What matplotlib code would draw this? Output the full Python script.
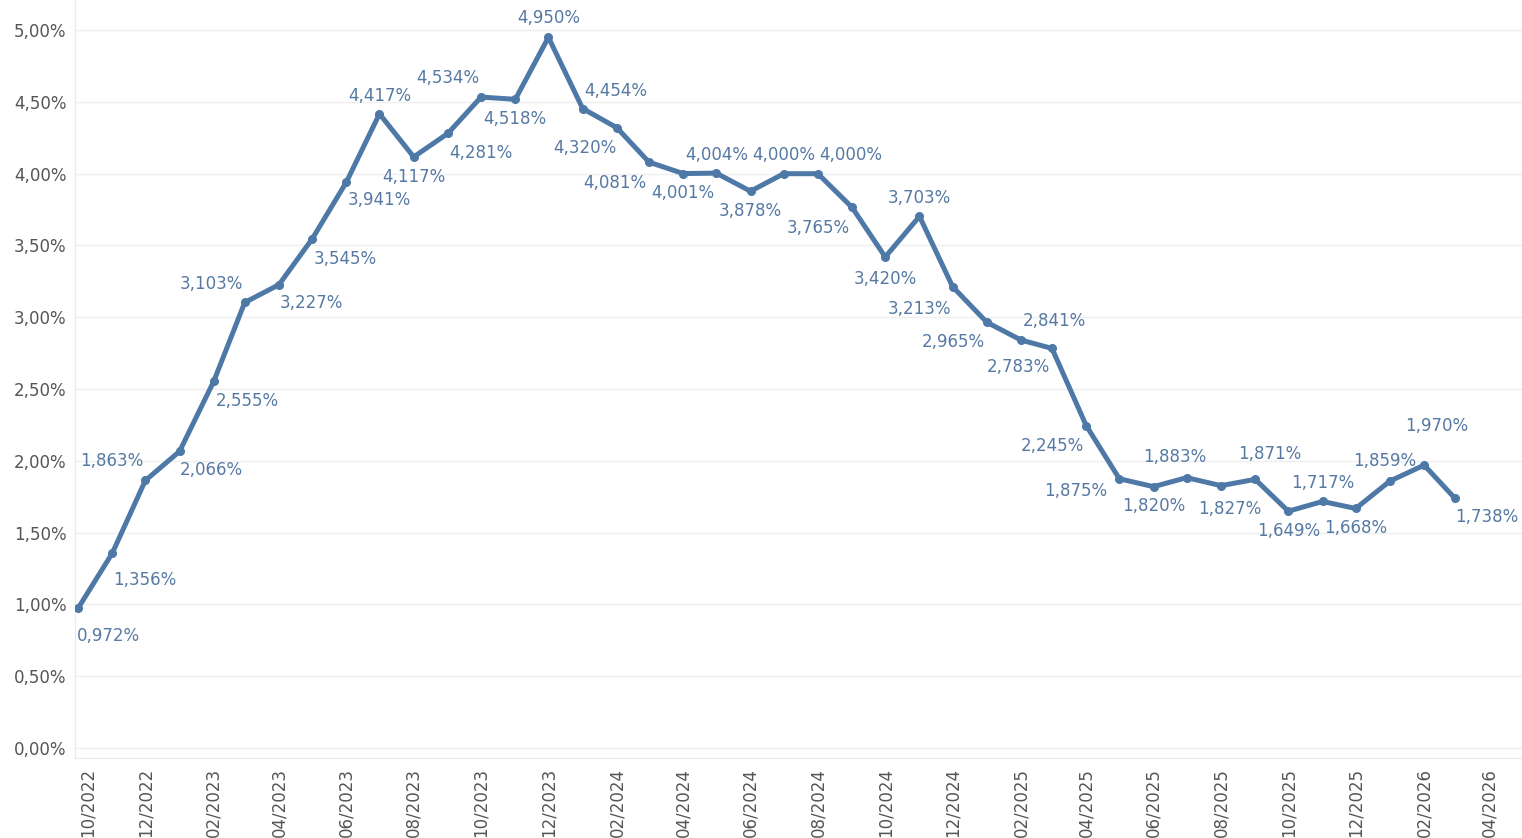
import numpy as np
import pandas as pd
import matplotlib
matplotlib.use("Agg")
import matplotlib.pyplot as plt
import matplotlib.dates as mdates
import matplotlib.transforms as mtransforms

# Taxa mensal (%) de 10/2022 a 03/2026
valores = [0.972, 1.356, 1.863, 2.066, 2.555, 3.103, 3.227, 3.545, 3.941, 4.417,
           4.117, 4.281, 4.534, 4.518, 4.950, 4.454, 4.320, 4.081, 4.001, 4.004,
           3.878, 4.000, 4.000, 3.765, 3.420, 3.703, 3.213, 2.965, 2.841, 2.783,
           2.245, 1.875, 1.820, 1.883, 1.827, 1.871, 1.649, 1.717, 1.668, 1.859,
           1.970, 1.738]
inicio = "2022-10-01"
meses = pd.date_range(inicio, periods=len(valores), freq="MS")

# deslocamento dos rótulos (pixels, x para a direita, y para baixo)
desloc = [(30, 28), (33, 27), (-34, -19), (32, 19), (33, 20), (-33, -18), (32, 18),
          (33, 20), (33, 18), (0, -18), (0, 20), (33, 20), (-33, -19), (0, 20),
          (0, -19), (33, -18), (-32, 20), (-34, 21), (0, 19), (0, -18), (0, 20),
          (0, -19), (33, -19), (-34, 21), (0, 22), (0, -18), (-33, 22), (-34, 20),
          (33, -19), (-34, 19), (-34, 20), (-44, 12), (0, 19), (-12, -21), (9, 23),
          (15, -25), (0, 20), (0, -18), (0, 20), (-5, -20), (13, -39), (32, 19)]

azul = "#4e79a7"
cinza = "#555555"

fig = plt.figure(figsize=(15.22, 8.38), dpi=100)
ax = fig.add_axes([75 / 1522, 1 - 758 / 838, 1 - 75 / 1522, 758 / 838])

ax.plot(meses, valores, color=azul, lw=3.6, marker="o", ms=5.5,
        solid_joinstyle="round", zorder=3)

for d, v, (dx, dy) in zip(meses, valores, desloc):
    ax.annotate(f"{v:.3f}%".replace(".", ","), (d, v), xytext=(dx, -dy),
                textcoords="offset pixels", ha="center", va="center",
                fontsize=12, color="#5679a3", annotation_clip=False)

ax.set_ylim(-0.07, 5.21)
ax.set_yticks(np.arange(0, 5.01, 0.5))
ax.set_yticklabels([f"{t:.2f}%".replace(".", ",") for t in np.arange(0, 5.01, 0.5)])
ax.grid(axis="y", color="#efefef", lw=1)
ax.set_axisbelow(True)

t0 = pd.Timestamp(inicio)
ax.set_xlim(t0 - pd.Timedelta(days=2.7), t0 + pd.Timedelta(days=1307.6))
ax.xaxis.set_major_locator(mdates.MonthLocator(bymonth=[2, 4, 6, 8, 10, 12]))
ax.xaxis.set_major_formatter(mdates.DateFormatter("%m/%Y"))
plt.setp(ax.get_xticklabels(), rotation=90, ha="center", va="top")

ax.tick_params(axis="both", length=0, labelsize=12, labelcolor=cinza)
ax.tick_params(axis="y", pad=6)
ax.tick_params(axis="x", pad=7)

# primeiro rótulo do eixo x um pouco deslocado para a direita
fig.canvas.draw()
primeiro = ax.get_xticklabels()[0]
primeiro.set_transform(primeiro.get_transform() +
                       mtransforms.ScaledTranslation(10 / 100, 0, fig.dpi_scale_trans))

for lado in ["top", "right"]:
    ax.spines[lado].set_visible(False)
ax.spines["left"].set_color("#eaeaea")
ax.spines["bottom"].set_color("#eaeaea")

fig.savefig("out.png", dpi=100)
